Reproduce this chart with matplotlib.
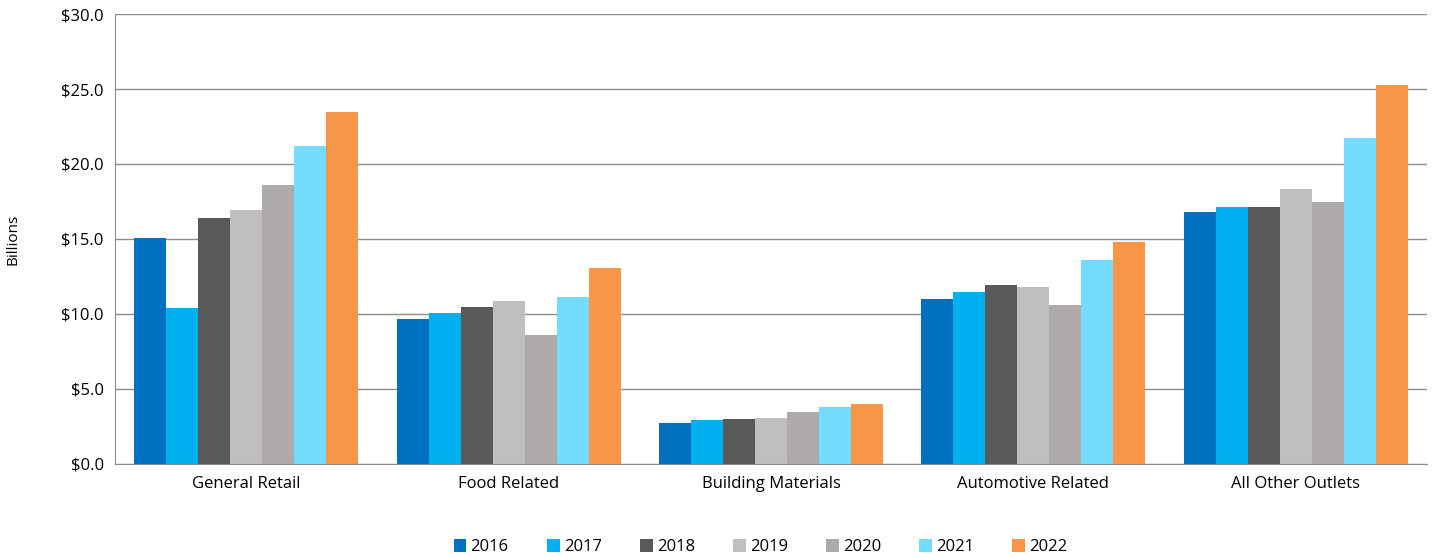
import matplotlib
matplotlib.use("Agg")
import matplotlib.pyplot as plt
import numpy as np

categories = ["General Retail", "Food Related", "Building Materials",
              "Automotive Related", "All Other Outlets"]
years = ["2016", "2017", "2018", "2019", "2020", "2021", "2022"]
v2016 = [15.07, 9.67, 2.73, 11.0, 16.8]
v2017 = [10.4, 10.07, 2.93, 11.47, 17.15]
v2018 = [16.4, 10.47, 3.0, 11.93, 17.1]
v2019 = [16.93, 10.87, 3.07, 11.8, 18.33]
v2020 = [18.6, 8.6, 3.47, 10.6, 17.47]
v2021 = [21.2, 11.13, 3.8, 13.6, 21.73]
v2022 = [23.47, 13.07, 4.0, 14.8, 25.27]
series = [v2016, v2017, v2018, v2019, v2020, v2021, v2022]
colors = ["#0070C0", "#00B0F0", "#595959", "#BFBFBF", "#AEAAAA", "#75DBFF", "#F79646"]

plt.rcParams['font.family'] = ['Open Sans', 'DejaVu Sans']

fig = plt.figure(figsize=(14.35, 5.58), dpi=100)
ax = fig.add_axes([0.0801, 0.1685, 0.9143, 0.8064])

x = np.arange(len(categories))
w = 0.122
for i, (yr, vals) in enumerate(zip(years, series)):
    ax.bar(x + (i - 3) * w, vals, width=w, color=colors[i], label=yr, zorder=2)

ax.set_xlim(-0.5, len(categories) - 0.5)
ax.set_ylim(0, 30)
ax.set_yticks(np.arange(0, 31, 5))
ax.set_yticklabels([f"${v:.1f}" for v in np.arange(0, 31, 5)], fontsize=12)
ax.set_xticks(x)
ax.set_xticklabels(categories, fontsize=12)
ax.tick_params(axis='y', length=0, pad=8)
ax.tick_params(axis='x', length=0, pad=9)
ax.yaxis.grid(True, color="#8C8C8C", linewidth=1, zorder=1)
ax.set_axisbelow(True)
for s in ["top", "right"]:
    ax.spines[s].set_visible(False)
for s in ["left", "bottom"]:
    ax.spines[s].set_color("#8C8C8C")
ax.set_ylabel("Billions", fontsize=11)
ax.yaxis.set_label_coords(-0.072, 0.5)

fig.legend(loc="lower center", bbox_to_anchor=(0.53, -0.022), ncol=7, frameon=False,
           fontsize=12, handlelength=0.75, handleheight=0.75, handletextpad=0.25,
           columnspacing=2.3)

fig.savefig("out.png", dpi=100)
